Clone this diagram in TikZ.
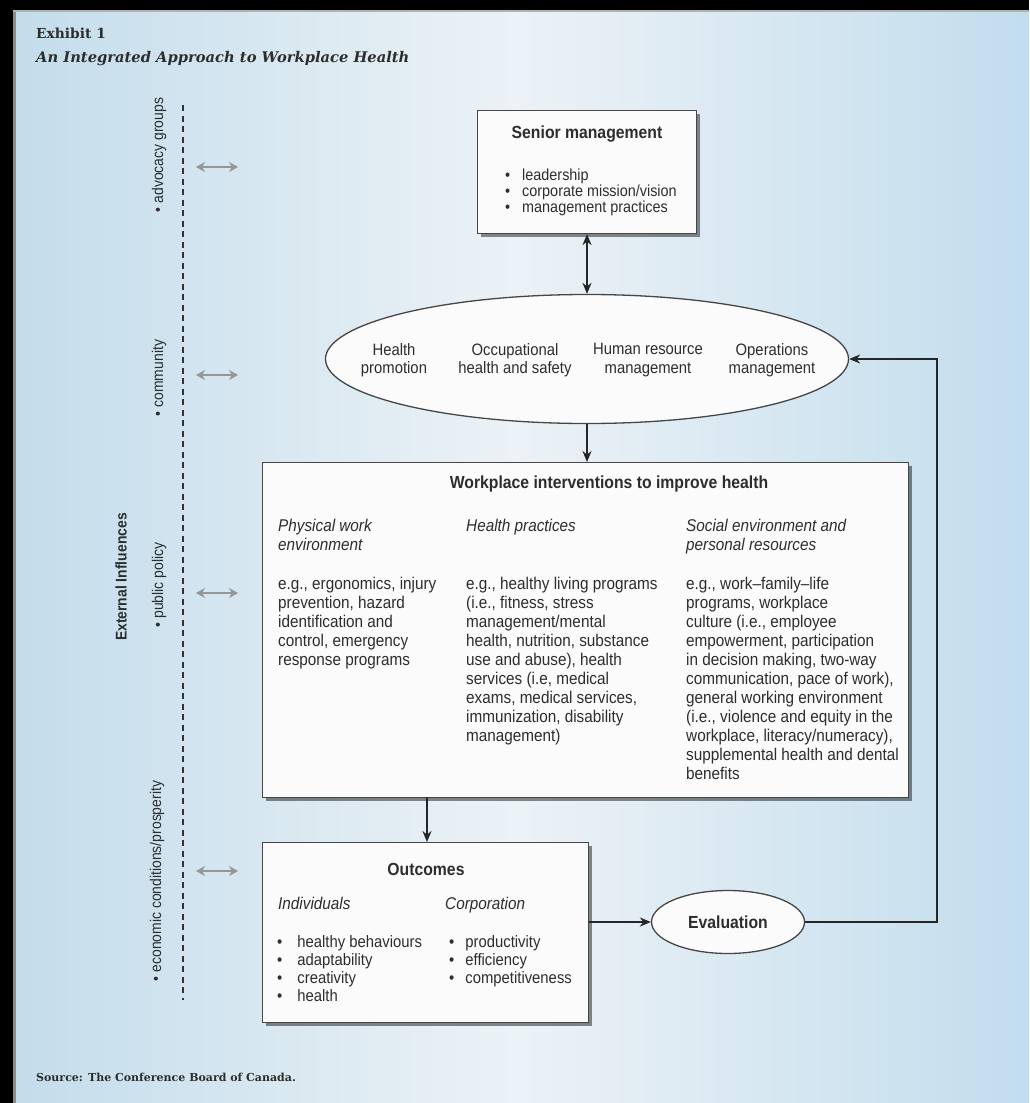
\documentclass[tikz,border=0pt]{standalone}
\usepackage{fontspec}
\setmainfont{Liberation Sans}[FakeStretch=0.9]
\newfontfamily\exhfont{DejaVu Serif}
\usetikzlibrary{arrows.meta,shapes.geometric,shadows}
\definecolor{bgleft}{RGB}{194,220,235}
\definecolor{bgmid}{RGB}{236,242,246}
\definecolor{bgright}{RGB}{194,221,237}
\definecolor{ink}{RGB}{45,45,45}
\definecolor{boxline}{RGB}{70,70,70}
\definecolor{boxfill}{RGB}{251,251,251}
\definecolor{arrowgray}{RGB}{150,150,150}
\newcommand{\mylines}[1]{\begin{tabular}[t]{@{}l@{}}#1\end{tabular}}
\newcommand{\mybullets}[1]{\begin{tabular}[t]{@{}l@{\hspace{12pt}}l@{}}#1\end{tabular}}
\tikzset{
  box/.style={draw=boxline, line width=1.1pt, fill=boxfill, inner sep=0pt,
    drop shadow={shadow xshift=3.5pt, shadow yshift=-3.5pt, fill=black, opacity=0.45}},
  oval/.style={ellipse, draw=boxline, line width=1.3pt, fill=boxfill, inner sep=0pt},
  txt/.style={text=ink, inner sep=0pt, font=\fontsize{17}{19}\selectfont, align=left},
  blist/.style={text=ink, inner sep=0pt, anchor=base west, font=\fontsize{16.5}{16.5}\selectfont},
  ttl/.style={text=ink, inner sep=0pt, font=\fontsize{17.5}{19}\selectfont\bfseries},
  flow/.style={draw=black!85, line width=1.8pt, -{Stealth[length=11pt,width=9pt]}},
  flowboth/.style={draw=black!85, line width=1.8pt, {Stealth[length=11pt,width=9pt]}-{Stealth[length=11pt,width=9pt]}},
  greyarrow/.style={draw=arrowgray, line width=2.4pt, {Stealth[length=9pt,width=10pt]}-{Stealth[length=9pt,width=10pt]}},
  side/.style={text=ink, inner sep=0pt, rotate=90, font=\fontsize{15.5}{18}\selectfont},
}
\begin{document}
\begin{tikzpicture}[x=1pt,y=-1pt]
\useasboundingbox (0,0) rectangle (1029,1103);
% background
\shade[left color=bgleft, right color=bgright, middle color=bgmid] (0,0) rectangle (1029,1103);
\fill[black] (0,0) rectangle (1029,10);
\fill[black] (0,0) rectangle (13,1103);
\fill[black!45] (13,10) rectangle (16,1103);
\fill[black!30] (13,10) rectangle (1029,12);
% titles
\node[anchor=base west, inner sep=0pt, text=ink, font=\exhfont\fontsize{13.8}{16}\selectfont\bfseries] (exh) at (36,38) {Exhibit 1};
\node[anchor=base west, inner sep=0pt, text=ink, font=\exhfont\fontsize{14.7}{16}\selectfont\bfseries\itshape] (exhtitle) at (36,62) {An Integrated Approach to Workplace Health};
\node[anchor=base west, inner sep=0pt, text=ink, font=\exhfont\fontsize{11}{13}\selectfont\bfseries] (source) at (36,1081) {Source: The Conference Board of Canada.};
% external influences
\coordinate (dtop) at (183,105);
\coordinate (dbot) at (183,1000);
\draw[black!80, line width=1.3pt, dash pattern=on 6pt off 4.5pt] (dtop) -- (dbot);
\node[side, font=\fontsize{15.5}{18}\selectfont\bfseries] (extinf) at (121,577) {External Influences};
\node[side] (advoc) at (159,155) {\textbullet\ advocacy groups};
\node[side] (commu) at (159,378) {\textbullet\ community};
\node[side] (publ) at (159,585) {\textbullet\ public policy};
\node[side] (econ) at (157,881) {\textbullet\ economic conditions/prosperity};
\foreach \y/\n in {167/a,375/b,593/c,871/d}{
  \coordinate (gl\n) at (196,\y);
  \coordinate (gr\n) at (238,\y);
  \draw[greyarrow] (gl\n) -- (gr\n);
}
% senior management
\node[box, minimum width=219pt, minimum height=123pt, anchor=north west] (senior) at (477,110) {};
\node[ttl] (seniort) at (587,134) {Senior management};
\node[blist, font=\fontsize{16}{16}\selectfont] (seniorb) at (505,180)
  {\mybullets{\textbullet & leadership\\ \textbullet & corporate mission/vision\\ \textbullet & management practices}};
% hub ellipse
\node[oval, minimum width=523pt, minimum height=129pt] (hub) at (587,359) {};
\node[txt, align=center, font=\fontsize{16.5}{18.5}\selectfont] (hp) at (394,360) {Health\\promotion};
\node[txt, align=center, font=\fontsize{16.5}{18.5}\selectfont] (ohs) at (515,360) {Occupational\\health and safety};
\node[txt, align=center, font=\fontsize{16.5}{18.5}\selectfont] (hrm) at (648,360) {Human resource\\management};
\node[txt, align=center, font=\fontsize{16.5}{18.5}\selectfont] (opm) at (772,360) {Operations\\management};
% workplace interventions
\node[box, minimum width=646pt, minimum height=335pt, anchor=north west] (work) at (262,462) {};
\node[ttl] (workt) at (609,484) {Workplace interventions to improve health};
\node[txt, anchor=base west, font=\fontsize{17}{19}\selectfont\itshape] (c1h) at (278,531) {\mylines{Physical work\\environment}};
\node[txt, anchor=base west, font=\fontsize{17}{19}\selectfont\itshape] (c2h) at (466,531) {\mylines{Health practices}};
\node[txt, anchor=base west, font=\fontsize{17}{19}\selectfont\itshape] (c3h) at (686,531) {\mylines{Social environment and\\personal resources}};
\node[txt, anchor=base west] (c1b) at (278,589) {\mylines{e.g., ergonomics, injury\\prevention, hazard\\identification and\\control, emergency\\response programs}};
\node[txt, anchor=base west] (c2b) at (466,589) {\mylines{e.g., healthy living programs\\(i.e., fitness, stress\\management/mental\\health, nutrition, substance\\use and abuse), health\\services (i.e, medical\\exams, medical services,\\immunization, disability\\management)}};
\node[txt, anchor=base west] (c3b) at (686,589) {\mylines{e.g., work--family--life\\programs, workplace\\culture (i.e., employee\\empowerment, participation\\in decision making, two-way\\communication, pace of work),\\general working environment\\(i.e., violence and equity in the\\workplace, literacy/numeracy),\\supplemental health and dental\\benefits}};
% outcomes
\node[box, minimum width=326pt, minimum height=180pt, anchor=north west] (outc) at (262,842) {};
\node[ttl] (outct) at (426,869) {Outcomes};
\node[txt, anchor=base west, font=\fontsize{17}{19}\selectfont\itshape] (indiv) at (278,909) {Individuals};
\node[txt, anchor=base west, font=\fontsize{17}{19}\selectfont\itshape] (corp) at (445,909) {Corporation};
\node[blist, font=\fontsize{16.5}{18}\selectfont] (indivb) at (277,947)
  {\begin{tabular}[t]{@{}l@{\hspace{15pt}}l@{}}\textbullet & healthy behaviours\\ \textbullet & adaptability\\ \textbullet & creativity\\ \textbullet & health\end{tabular}};
\node[blist, font=\fontsize{16.5}{18}\selectfont] (corpb) at (449,947)
  {\begin{tabular}[t]{@{}l@{\hspace{11pt}}l@{}}\textbullet & productivity\\ \textbullet & efficiency\\ \textbullet & competitiveness\end{tabular}};
% evaluation
\node[oval, minimum width=153pt, minimum height=63pt] (eval) at (728,922) {};
\node[ttl] (evalt) at (728,922) {Evaluation};
% connectors
\draw[flowboth] (senior.south -| hub.north) -- (hub.north);
\coordinate (workin) at (work.north -| hub.south);
\draw[flow] (hub.south) -- (workin);
\coordinate (wout) at (427,797);
\coordinate (oin) at (427,842);
\draw[flow] (wout) -- (oin);
\draw[flow] (outc.east |- eval.west) -- (eval.west);
\coordinate (fb) at (937,922);
\draw[flow] (eval.east) -- (fb) |- (hub.east);
\end{tikzpicture}
\end{document}
